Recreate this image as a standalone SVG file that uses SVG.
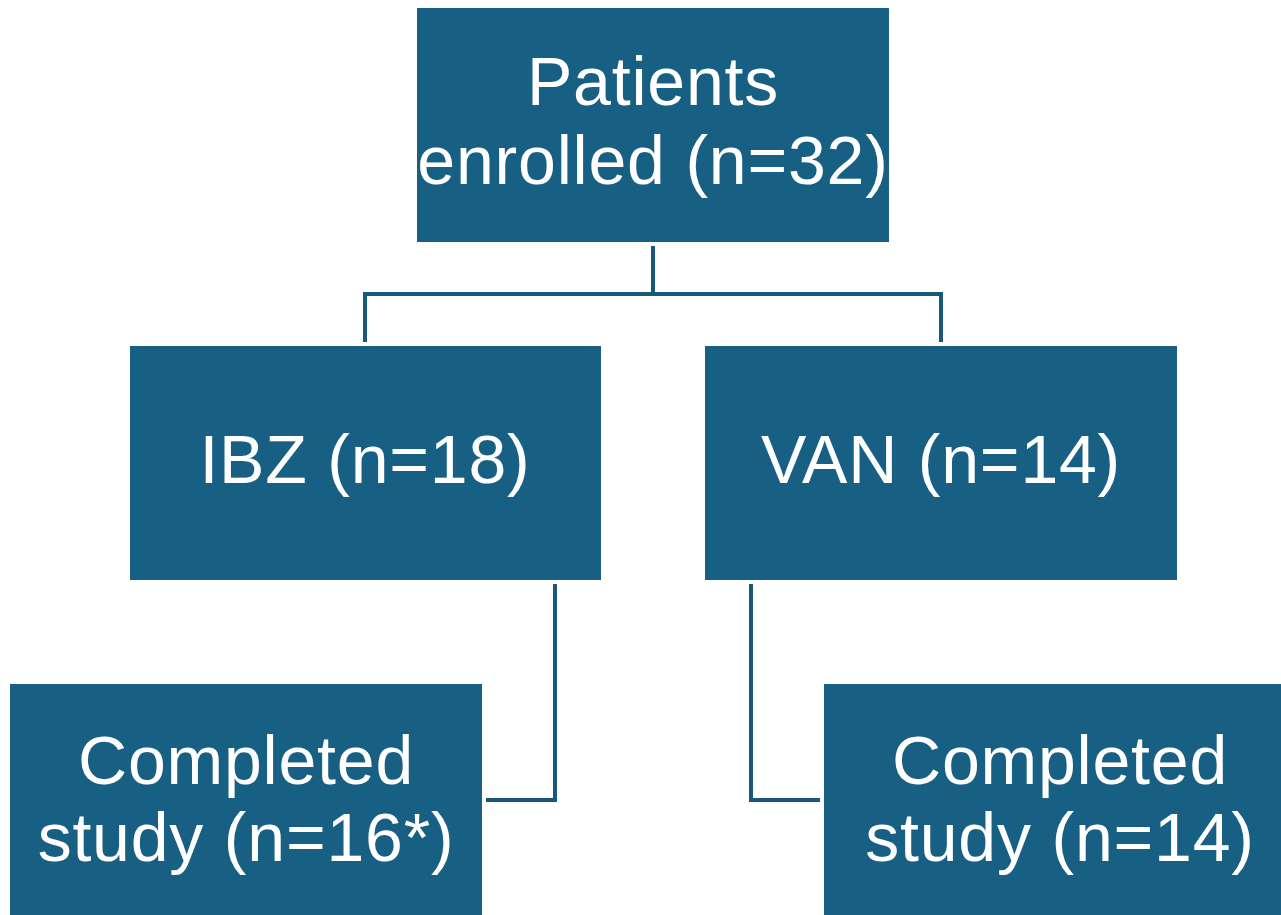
<svg xmlns="http://www.w3.org/2000/svg" width="1281" height="915" viewBox="0 0 1281 915">
<style>
.box{fill:#186083}
.lbl{fill:#ffffff;font-family:"Liberation Sans",Arial,sans-serif;font-size:68px;letter-spacing:0.8px;text-anchor:middle}
.con{fill:none;stroke:#18587a;stroke-width:4}
</style>
<rect width="1281" height="915" fill="#ffffff"/>
<g id="connectors">
<path class="con" d="M653,246 V294 M365,342 V294 H941 V342"/>
<path class="con" d="M555,584 V800 H486"/>
<path class="con" d="M751,584 V800 H820"/>
</g>
<g id="enrolled">
<rect class="box" x="417" y="8" width="472" height="234"/>
<text class="lbl" x="653" y="105">Patients</text>
<text class="lbl" x="653" y="184">enrolled (n=32)</text>
</g>
<g id="ibz">
<rect class="box" x="130" y="346" width="471" height="234"/>
<text class="lbl" x="365" y="483">IBZ (n=18)</text>
</g>
<g id="van">
<rect class="box" x="705" y="346" width="472" height="234"/>
<text class="lbl" x="941" y="483">VAN (n=14)</text>
</g>
<g id="ibz-completed">
<rect class="box" x="10" y="684" width="472" height="231"/>
<text class="lbl" x="246" y="784">Completed</text>
<text class="lbl" x="246" y="861">study (n=16*)</text>
</g>
<g id="van-completed">
<rect class="box" x="824" y="684" width="457" height="231"/>
<text class="lbl" x="1060" y="784">Completed</text>
<text class="lbl" x="1060" y="861">study (n=14)</text>
</g>
</svg>
